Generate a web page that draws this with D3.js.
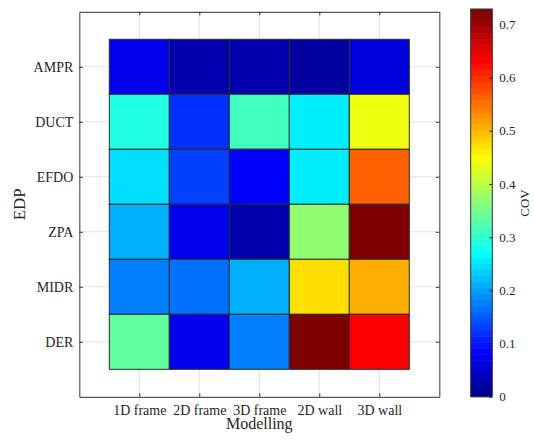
<!DOCTYPE html>
<html>
<head>
<meta charset="utf-8">
<script src="https://cdn.jsdelivr.net/npm/d3@7"></script>
<style>
  html, body { margin: 0; padding: 0; background: #fff; }
  svg { display: block; }
  svg text { font-family: 'Liberation Serif', 'Times New Roman', serif !important; fill: #262626; }
</style>
</head>
<body>
<svg id="chart" width="534" height="443"></svg>
<script>
// ---- data ----
const models = ["1D frame", "2D frame", "3D frame", "2D wall", "3D wall"];
const edps = ["AMPR", "DUCT", "EFDO", "ZPA", "MIDR", "DER"];
// COV per modelling approach, in EDP order above
const cov1DFrame = [0.074, 0.290, 0.245, 0.211, 0.182, 0.336];
const cov2DFrame = [0.028, 0.120, 0.131, 0.074, 0.165, 0.074];
const cov3DFrame = [0.028, 0.313, 0.085, 0.030, 0.211, 0.177];
const cov2DWall  = [0.017, 0.256, 0.256, 0.370, 0.473, 0.729];
const cov3DWall  = [0.063, 0.439, 0.564, 0.729, 0.507, 0.632];
const colorbarTicks = [0, 0.1, 0.2, 0.3, 0.4, 0.5, 0.6, 0.7];
const colorMax = 0.729;

const series = [cov1DFrame, cov2DFrame, cov3DFrame, cov2DWall, cov3DWall];
const cells = [];
series.forEach((arr, mi) => arr.forEach((v, ei) => cells.push({ m: mi, e: ei, v })));

// MATLAB-style jet(64)
function jet64() {
  const m = 64, n = 16;
  const u = [];
  for (let i = 1; i <= n; i++) u.push(i / n);
  for (let i = 0; i < n - 1; i++) u.push(1);
  for (let i = n; i >= 1; i--) u.push(i / n);
  const cmap = Array.from({ length: m }, () => [0, 0, 0]);
  const gOff = Math.ceil(n / 2) - (m % 4 === 1 ? 1 : 0);
  u.forEach((val, j) => {
    const g = gOff + j + 1;
    const r = g + n, b = g - n;
    if (g >= 1 && g <= m) cmap[g - 1][1] = val;
    if (r >= 1 && r <= m) cmap[r - 1][0] = val;
    if (b >= 1 && b <= m) cmap[b - 1][2] = val;
  });
  return cmap.map(c => d3.rgb(c[0] * 255, c[1] * 255, c[2] * 255).formatHex());
}
const cmap = jet64();
const colorOf = v => cmap[Math.max(0, Math.min(63, Math.floor(v / colorMax * 64)))];

const FONT = "Liberation Serif, Times New Roman, serif";
const svg = d3.select("#chart").attr("font-family", FONT);

// ---- axes geometry ----
const L = 79.3, R = 439.3, T = 11.8, B = 396.8;
const x = d3.scaleLinear().domain([0, 6]).range([L, R]);
const y = d3.scaleLinear().domain([0, 7]).range([T, B]);

// grid
const grid = svg.append("g");
models.forEach((m, i) => {
  grid.append("line").attr("x1", x(i + 1)).attr("x2", x(i + 1)).attr("y1", T).attr("y2", B)
    .attr("stroke", "#e3e3e3").attr("stroke-width", 1);
});
edps.forEach((e, i) => {
  grid.append("line").attr("y1", y(i + 1)).attr("y2", y(i + 1)).attr("x1", L).attr("x2", R)
    .attr("stroke", "#e3e3e3").attr("stroke-width", 1);
});

// cells
svg.append("g").selectAll("rect").data(cells).join("rect")
  .attr("x", d => x(d.m + 0.5))
  .attr("y", d => y(d.e + 0.5))
  .attr("width", d => x(d.m + 1.5) - x(d.m + 0.5))
  .attr("height", d => y(d.e + 1.5) - y(d.e + 0.5))
  .attr("fill", d => colorOf(d.v))
  .attr("stroke", "#2b2b2b").attr("stroke-width", 1);

// axes box and ticks (inward, all sides)
const tickLen = 3.5;
const axG = svg.append("g");
const tickVals = d3.range(1, 6);
const bottomAxis = d3.axisBottom(x).tickValues(tickVals).tickFormat(d => models[d - 1]).tickSizeInner(-tickLen).tickSizeOuter(0).tickPadding(8);
const topAxis = d3.axisTop(x).tickValues(tickVals).tickFormat("").tickSizeInner(-tickLen).tickSizeOuter(0);
const leftAxis = d3.axisLeft(y).tickValues(d3.range(1, 7)).tickFormat(d => edps[d - 1]).tickSizeInner(-tickLen).tickSizeOuter(0).tickPadding(6);
const rightAxis = d3.axisRight(y).tickValues(d3.range(1, 7)).tickFormat("").tickSizeInner(-tickLen).tickSizeOuter(0);

function style(g) {
  g.attr("font-family", FONT).attr("font-size", 14);
  g.select(".domain").attr("stroke", "#555").attr("stroke-width", 1.2);
  g.selectAll(".tick line").attr("stroke", "#333").attr("stroke-width", 1);
  g.selectAll(".tick text").attr("fill", "#262626");
}
axG.append("g").attr("transform", `translate(0,${B})`).call(bottomAxis).call(style);
axG.append("g").attr("transform", `translate(0,${T})`).call(topAxis).call(style);
axG.append("g").attr("transform", `translate(${L},0)`).call(leftAxis).call(style);
axG.append("g").attr("transform", `translate(${R},0)`).call(rightAxis).call(style);

// axis labels
svg.append("text").attr("x", (L + R) / 2).attr("y", 429).attr("text-anchor", "middle")
  .attr("font-size", 16).text("Modelling");
svg.append("text").attr("transform", `translate(25,${(T + B) / 2}) rotate(-90)`)
  .attr("text-anchor", "middle").attr("font-size", 17).text("EDP");

// ---- colorbar ----
const cbL = 470.7, cbR = 492.3, cbT = 9, cbB = 396.7;
const cy = d3.scaleLinear().domain([0, colorMax]).range([cbB, cbT]);
const bands = d3.range(64);
svg.append("g").selectAll("rect").data(bands).join("rect")
  .attr("x", cbL).attr("width", cbR - cbL)
  .attr("y", i => cy((i + 1) * colorMax / 64))
  .attr("height", i => cy(i * colorMax / 64) - cy((i + 1) * colorMax / 64) + 0.5)
  .attr("fill", i => cmap[i]);
svg.append("rect").attr("x", cbL).attr("y", cbT).attr("width", cbR - cbL).attr("height", cbB - cbT)
  .attr("fill", "none").attr("stroke", "#333").attr("stroke-width", 1);
const cbAxis = d3.axisRight(cy).tickValues(colorbarTicks).tickFormat(d => d === 0 ? "0" : d3.format(".1f")(d))
  .tickSizeInner(-3).tickSizeOuter(0).tickPadding(7);
svg.append("g").attr("transform", `translate(${cbR},0)`).call(cbAxis)
  .call(g => {
    g.attr("font-family", FONT).attr("font-size", 13);
    g.select(".domain").remove();
    g.selectAll(".tick line").attr("stroke", "#222");
    g.selectAll(".tick text").attr("fill", "#262626");
  });
svg.append("text").attr("transform", `translate(529,203) rotate(-90)`)
  .attr("text-anchor", "middle").attr("font-size", 13).text("COV");
</script>
</body>
</html>
